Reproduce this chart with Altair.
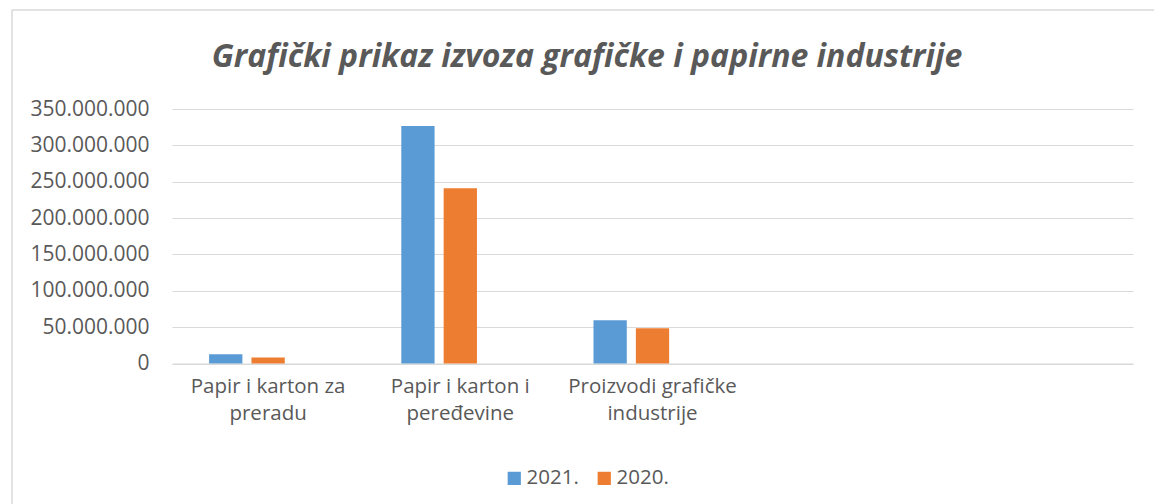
import altair as alt
import pandas as pd

# ---- data ----
title_text = "Grafički prikaz izvoza grafičke i papirne industrije"
categories = [
    "Papir i karton za preradu",
    "Papir i karton i peređevine",
    "Proizvodi grafičke industrije",
    "kat4",
    "kat5",
]
label_lines = [
    ["Papir i karton za", "preradu"],
    ["Papir i karton i", "peređevine"],
    ["Proizvodi grafičke", "industrije"],
    [""],
    [""],
]
series = ["2021.", "2020."]
slots = ["2021.", "2020.", "(prazno)"]  # third (empty) series slot as in the original
values_2021 = [12_800_000, 326_600_000, 59_600_000]
values_2020 = [8_300_000, 240_900_000, 48_600_000]
y_ticks = [0, 50_000_000, 100_000_000, 150_000_000, 200_000_000, 250_000_000, 300_000_000, 350_000_000]
colors = ["#5b9bd5", "#ed7d31"]

rows = []
for c, v in zip(categories, values_2021):
    rows.append({"kategorija": c, "godina": "2021.", "vrijednost": v})
for c, v in zip(categories, values_2020):
    rows.append({"kategorija": c, "godina": "2020.", "vrijednost": v})
df = pd.DataFrame(rows)

# label expression (multi-line labels)
expr = "''"
for c, lines in reversed(list(zip(categories, label_lines))):
    arr = "[" + ",".join("'" + s + "'" for s in lines) + "]"
    expr = f"datum.value == '{c}' ? {arr} : ({expr})"

TXT = "#595959"
FONT = "Open Sans"

bars = alt.Chart(df).mark_bar().encode(
    x=alt.X(
        "kategorija:N",
        scale=alt.Scale(domain=categories, paddingInner=0.386, paddingOuter=0.193),
        axis=alt.Axis(
            title=None, labelAngle=0, labelExpr=expr, labelFont=FONT, labelFontSize=20.5,
            labelColor=TXT, labelPadding=13, labelLineHeight=27, ticks=False,
            domainColor="#d9d9d9", domainWidth=1, grid=False, labelBaseline="top",
        ),
    ),
    xOffset=alt.XOffset(
        "godina:N", scale=alt.Scale(domain=slots, paddingInner=0.214, paddingOuter=0)
    ),
    y=alt.Y(
        "vrijednost:Q",
        scale=alt.Scale(domain=[0, 350_000_000], nice=False),
        axis=alt.Axis(
            title=None, values=y_ticks, domain=False, ticks=False,
            labelExpr="replace(format(datum.value, ','), regexp(',', 'g'), '.')",
            labelFont=FONT, labelFontSize=21, labelColor=TXT, labelPadding=23,
            gridColor="#d9d9d9", gridWidth=1,
        ),
    ),
    color=alt.Color(
        "godina:N",
        scale=alt.Scale(domain=series, range=colors),
        legend=alt.Legend(
            title=None, orient="none", legendX=332, legendY=359, direction="horizontal",
            symbolType="square", symbolSize=175, symbolStrokeWidth=0,
            labelFont=FONT, labelFontSize=20.5, labelColor=TXT, labelOffset=2,
            columnPadding=15,
        ),
    ),
)

# chart title as a text mark (placed above the plot area)
title = alt.Chart(pd.DataFrame({"t": [title_text]})).mark_text(
    font=FONT, fontSize=32, fontStyle="italic", fontWeight="bold", color=TXT,
    align="center", baseline="alphabetic",
).encode(text="t:N", x=alt.value(587 - 172), y=alt.value(67 - 109))

# outer chart frame (decorative)
frame_top = alt.Chart(pd.DataFrame({"a": [0]})).mark_rule(color="#d9d9d9", strokeWidth=1.5).encode(
    x=alt.value(12 - 172), x2=alt.value(1154 - 172), y=alt.value(10 - 109)
)
frame_left = alt.Chart(pd.DataFrame({"a": [0]})).mark_rule(color="#d9d9d9", strokeWidth=1.5).encode(
    x=alt.value(12 - 172), y=alt.value(10 - 109), y2=alt.value(504 - 109)
)

chart = alt.layer(frame_top, frame_left, bars, title).properties(
    width=961,
    height=254.5,
    padding={"left": 172, "top": 109, "right": 21, "bottom": 140.5},
    autosize=alt.AutoSizeParams(type="none"),
).configure(background="white", view=alt.ViewConfig(stroke="transparent", strokeWidth=0))

chart.save("out.html", embed_options={"renderer": "svg", "actions": False})
